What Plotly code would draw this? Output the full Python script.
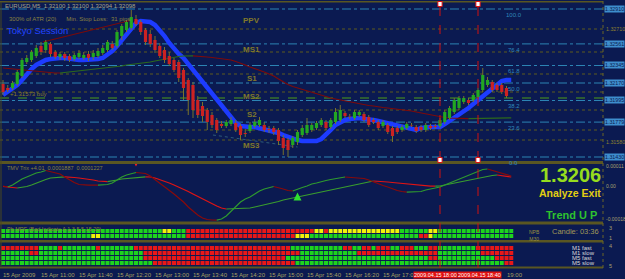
import plotly.graph_objects as go

W, H = 625, 279
PLOT_R = 603
BG = "#0B1A51"
FONT = "Liberation Sans"

# ---------------- data ----------------
bars = list(range(108))
opens = [1.32160,1.32120,1.32120,1.32160,1.32240,1.32380,1.32400,1.32440,1.32540,1.32500,
         1.32560,1.32480,1.32430,1.32460,1.32440,1.32410,1.32430,1.32420,1.32460,1.32430,
         1.32440,1.32470,1.32500,1.32560,1.32540,1.32640,1.32700,1.32720,1.32810,1.32780,
         1.32700,1.32660,1.32600,1.32540,1.32500,1.32440,1.32400,1.32380,1.32300,1.32200,
         1.32150,1.32000,1.31940,1.31900,1.31850,1.31800,1.31760,1.31740,1.31760,1.31770,
         1.31740,1.31670,1.31690,1.31740,1.31750,1.31750,1.31710,1.31720,1.31700,1.31620,
         1.31600,1.31550,1.31580,1.31650,1.31670,1.31700,1.31720,1.31750,1.31780,1.31730,
         1.31780,1.31800,1.31870,1.31840,1.31820,1.31850,1.31860,1.31830,1.31800,1.31780,
         1.31740,1.31750,1.31720,1.31720,1.31700,1.31720,1.31750,1.31730,1.31730,1.31700,
         1.31740,1.31740,1.31740,1.31780,1.31820,1.31880,1.31920,1.31980,1.32000,1.32000,
         1.32030,1.32100,1.32150,1.32180,1.32150,1.32150,1.32120,1.32100]
highs = [1.32200,1.32150,1.32190,1.32300,1.32420,1.32450,1.32500,1.32550,1.32580,1.32600,
         1.32580,1.32500,1.32480,1.32480,1.32460,1.32470,1.32500,1.32480,1.32490,1.32500,
         1.32520,1.32550,1.32600,1.32590,1.32700,1.32760,1.32800,1.32900,1.32850,1.32800,
         1.32720,1.32700,1.32640,1.32570,1.32530,1.32480,1.32420,1.32400,1.32320,1.32220,
         1.32180,1.32040,1.31980,1.31920,1.31880,1.31820,1.31790,1.31800,1.31830,1.31800,
         1.31760,1.31710,1.31780,1.31810,1.31830,1.31780,1.31740,1.31740,1.31720,1.31650,
         1.31620,1.31640,1.31700,1.31750,1.31820,1.31770,1.31790,1.31820,1.31800,1.31820,
         1.31920,1.31950,1.31890,1.31860,1.31900,1.31900,1.31880,1.31850,1.31820,1.31800,
         1.31800,1.31770,1.31740,1.31740,1.31750,1.31780,1.31770,1.31750,1.31750,1.31770,
         1.31760,1.31760,1.31820,1.31900,1.31940,1.32020,1.32040,1.32040,1.32020,1.32070,
         1.32120,1.32320,1.32230,1.32200,1.32170,1.32170,1.32140,1.32100]
lows = [1.32050,1.32080,1.32100,1.32140,1.32220,1.32360,1.32380,1.32420,1.32450,1.32470,
        1.32430,1.32410,1.32400,1.32390,1.32380,1.32390,1.32410,1.32400,1.32390,1.32400,
        1.32420,1.32450,1.32480,1.32500,1.32520,1.32600,1.32680,1.32700,1.32740,1.32650,
        1.32550,1.32530,1.32470,1.32420,1.32370,1.32340,1.32280,1.32180,1.32000,1.31850,
        1.31820,1.31820,1.31780,1.31700,1.31720,1.31670,1.31720,1.31720,1.31740,1.31680,
        1.31600,1.31630,1.31670,1.31720,1.31730,1.31680,1.31670,1.31650,1.31550,1.31450,
        1.31430,1.31520,1.31550,1.31630,1.31650,1.31680,1.31700,1.31730,1.31700,1.31710,
        1.31760,1.31780,1.31820,1.31810,1.31800,1.31830,1.31780,1.31730,1.31760,1.31700,
        1.31720,1.31660,1.31580,1.31660,1.31680,1.31700,1.31730,1.31670,1.31680,1.31680,
        1.31700,1.31710,1.31720,1.31760,1.31800,1.31860,1.31900,1.31960,1.31950,1.31980,
        1.32010,1.32080,1.32130,1.32080,1.32080,1.32060,1.32020,1.32094]
closes = [1.32080,1.32100,1.32170,1.32280,1.32400,1.32420,1.32480,1.32520,1.32480,1.32580,
          1.32460,1.32430,1.32460,1.32420,1.32400,1.32450,1.32470,1.32450,1.32420,1.32470,
          1.32490,1.32520,1.32580,1.32520,1.32680,1.32740,1.32780,1.32830,1.32760,1.32680,
          1.32580,1.32560,1.32500,1.32440,1.32400,1.32360,1.32300,1.32220,1.32120,1.32000,
          1.31900,1.31850,1.31840,1.31780,1.31750,1.31700,1.31740,1.31780,1.31800,1.31700,
          1.31650,1.31660,1.31750,1.31780,1.31800,1.31700,1.31700,1.31680,1.31590,1.31520,
          1.31500,1.31620,1.31680,1.31720,1.31750,1.31750,1.31770,1.31800,1.31720,1.31800,
          1.31880,1.31900,1.31840,1.31835,1.31880,1.31880,1.31800,1.31750,1.31780,1.31720,
          1.31780,1.31680,1.31640,1.31680,1.31730,1.31760,1.31745,1.31690,1.31700,1.31750,
          1.31720,1.31730,1.31800,1.31880,1.31920,1.32000,1.32020,1.32020,1.31970,1.32050,
          1.32100,1.32250,1.32200,1.32100,1.32100,1.32080,1.32040,1.32098]

ribbon = [1.32050,1.32080,1.32110,1.32150,1.32200,1.32260,1.32310,1.32350,1.32380,1.32400,
          1.32410,1.32420,1.32420,1.32420,1.32410,1.32410,1.32400,1.32400,1.32400,1.32400,
          1.32410,1.32420,1.32450,1.32490,1.32540,1.32600,1.32660,1.32720,1.32770,1.32790,
          1.32790,1.32780,1.32750,1.32700,1.32640,1.32570,1.32510,1.32460,1.32420,1.32360,
          1.32300,1.32240,1.32180,1.32120,1.32060,1.32000,1.31940,1.31880,1.31820,1.31770,
          1.31740,1.31730,1.31730,1.31730,1.31720,1.31710,1.31700,1.31690,1.31670,1.31650,
          1.31630,1.31610,1.31600,1.31590,1.31590,1.31590,1.31590,1.31610,1.31650,1.31700,
          1.31750,1.31780,1.31800,1.31810,1.31820,1.31820,1.31810,1.31810,1.31800,1.31790,
          1.31780,1.31770,1.31750,1.31740,1.31730,1.31720,1.31710,1.31700,1.31720,1.31730,
          1.31730,1.31730,1.31730,1.31760,1.31790,1.31820,1.31850,1.31880,1.31920,1.31960,
          1.32000,1.32040,1.32080,1.32120,1.32160,1.32190,1.32200,1.32200]

ma_long = [1.32320,1.32315,1.32310,1.32305,1.32300,1.32295,1.32290,1.32285,1.32280,1.32275,
           1.32270,1.32270,1.32270,1.32275,1.32280,1.32285,1.32290,1.32295,1.32300,1.32305,
           1.32310,1.32315,1.32320,1.32330,1.32335,1.32340,1.32350,1.32355,1.32360,1.32370,
           1.32375,1.32380,1.32390,1.32400,1.32410,1.32420,1.32430,1.32435,1.32440,1.32442,
           1.32442,1.32440,1.32435,1.32430,1.32425,1.32420,1.32415,1.32410,1.32400,1.32385,
           1.32370,1.32350,1.32330,1.32315,1.32300,1.32280,1.32260,1.32240,1.32210,1.32180,
           1.32155,1.32135,1.32120,1.32105,1.32090,1.32075,1.32060,1.32045,1.32030,1.32020,
           1.32010,1.32000,1.31990,1.31980,1.31970,1.31960,1.31955,1.31945,1.31940,1.31930,
           1.31925,1.31920,1.31915,1.31910,1.31900,1.31895,1.31890,1.31880,1.31870,1.31860,
           1.31850,1.31840,1.31830,1.31825,1.31820,1.31817,1.31815,1.31814,1.31814,1.31815,
           1.31816,1.31817,1.31818,1.31819,1.31820,1.31820,1.31821,1.31822]

# TRIX values in units of 1e-6
trix_fast_e6 = [0,-5,5,20,35,45,55,65,70,77.5,
                72.5,65,60,45,30,17.5,7.5,5,4.5,4.5,
                4.5,5,7.5,15,30,45,55,60,67.5,65,
                62.5,50,32.5,15,-5,-20,-40,-60,-80,-105,
                -125,-145,-160,-167.5,-170,-171,-165,-150,-125,-100,
                -80,-65,-55,-40,-25,-15,-10,-2.5,-7.5,-15,
                -22.5,-25,-15,-7.5,0,10,15,22.5,27.5,32.5,
                37.5,42.5,45,44,42.5,40,37.5,30,20,12.5,
                2.5,-5,-15,-22.5,-27.5,-31,-30.5,-30,-27.5,-20,
                -15,-10,-5,5,15,25,35,42.5,55,65,
                75,82.5,85,77.5,70,62.5,55,50]
trix_slow_e6 = [-2.5,-5,-7.5,-10,-7.5,-2.5,5,15,22.5,32.5,
                40,42.5,45,45.5,45,42.5,40,37.5,35,30,
                25,22.5,22,25,30,35,37.5,40,42.5,45,
                45.5,45,40,32.5,25,15,5,-5,-15,-27.5,
                -40,-52.5,-65,-77.5,-90,-100,-110,-115,-114.5,-114,
                -113.5,-112.5,-110,-105,-100,-95,-90,-82.5,-77.5,-70,
                -65,-60,-57.5,-52.5,-47.5,-42.5,-37.5,-32.5,-27.5,-22.5,
                -17.5,-10,-5,0,5,10,15,20,25,24.5,
                22.5,20,17.5,15,12.5,10,7.5,5,2.5,0,
                -0.5,-1,0,5,10,15,20,25,30,35,
                40,45,50,52.5,55,52.5,50,45]

trend_x = [8.4, 27.2]
trend_y = [1.32580, 1.32800]
low_line_x = [44.2, 62.0]
low_line_y = [1.31650, 1.31530]

fib_labels = ["100.0", "76.4", "61.8", "50.0", "38.2", "23.6", "0.0"]
fib_prices = [1.32910, 1.32561, 1.32345, 1.32170, 1.31995, 1.31779, 1.31430]
pivot_names = ["PPV", "MS1", "S1", "MS2", "S2", "MS3"]
pivot_label_prices = [1.32790, 1.32500, 1.32210, 1.32030, 1.31850, 1.31550]
olive_levels = [1.32710, 1.32480, 1.32260, 1.32080, 1.31900, 1.31700, 1.31600]
buy_level = 1.32020
axis_olive_prices = [1.32710, 1.31580]

tick_bars = [0, 8, 16, 24, 32, 40, 48, 56, 64, 72, 80]
tick_text = ["15 Apr 2009", "15 Apr 11:00", "15 Apr 11:40", "15 Apr 12:20", "15 Apr 13:00",
             "15 Apr 13:40", "15 Apr 14:20", "15 Apr 15:00", "15 Apr 15:40", "15 Apr 16:20",
             "15 Apr 17:00"]
tail_tick_bar = 106
tail_tick_text = "19:00"
vline_bars = [92, 100]
vline_text = ["2009.04.15 18:00", "2009.04.15 18:40"]

nrp_row1 = "g"*34 + "y"*2 + "g"*3 + "r"*27 + "y"*2 + "r" + "y"*15 + "g"*6 + "y"*2 + "g"*16
nrp_row2 = "g"*19 + "y"*2 + "g"*18 + "r"*23 + "y"*3 + "g"*23 + "r"*2 + "y" + "g"*17
m1_fast = "r"*8 + "ggggrgggggggrggggggg" + "r"*33 + "g"*11 + "rrggrrgrrrggrrrgggrr" + "g"*8 + "r"*8
m1_slow = "g"*6 + "rr" + "g"*22 + "r"*33 + "g"*12 + "r"*17 + "g"*9 + "r"*7
m5_fast = "g"*30 + "r"*30 + "g"*30 + "r"*2 + "g"*12 + "r"*4
m5_slow = "g"*32 + "r"*30 + "g"*44 + "r"*2

# ---------------- helpers ----------------
def px(x):
    return x / W

def py(y):
    return 1 - y / H

SQ = {"g": "#1ED41E", "r": "#E81818", "y": "#F2F20A"}

fig = go.Figure()

def slope_traces(xs, ys, up, down, yaxis, width):
    out = []
    cur = None
    sx, sy = [xs[0]], [ys[0]]
    for i in range(1, len(xs)):
        if ys[i] > ys[i - 1]:
            c = up
        elif ys[i] < ys[i - 1]:
            c = down
        else:
            c = cur or up
        if cur is None:
            cur = c
        if c != cur:
            out.append(go.Scatter(x=sx, y=sy, mode="lines", yaxis=yaxis,
                                  line=dict(color=cur, width=width), hoverinfo="skip"))
            sx, sy = [xs[i - 1]], [ys[i - 1]]
            cur = c
        sx.append(xs[i]); sy.append(ys[i])
    out.append(go.Scatter(x=sx, y=sy, mode="lines", yaxis=yaxis,
                          line=dict(color=cur, width=width), hoverinfo="skip"))
    return out

# ---- main pane ----
fig.add_trace(go.Scatter(x=bars, y=ribbon, mode="lines", yaxis="y",
                         line=dict(color="#1D3BFF", width=4.5), hoverinfo="skip"))
for t in slope_traces(bars, ma_long, "#2C6A1C", "#7E0A0A", "y", 1.2):
    fig.add_trace(t)
fig.add_trace(go.Scatter(x=trend_x, y=trend_y, mode="lines", yaxis="y",
                         line=dict(color="#7A0A0A", width=1.2), hoverinfo="skip"))
fig.add_trace(go.Scatter(x=low_line_x, y=low_line_y, mode="lines", yaxis="y",
                         line=dict(color="#2E5C78", width=1, dash="dot"), hoverinfo="skip"))

wx, wy = [], []
gx, gy, rx, ry = [], [], [], []
for i, o, h, l, c in zip(bars, opens, highs, lows, closes):
    top, bot = max(o, c), min(o, c)
    if top - bot < 0.00003:
        mid = (top + bot) / 2
        top, bot = mid + 0.000015, mid - 0.000015
    wx += [i, i, None, i, i, None]
    wy += [h, top, None, bot, l, None]
    if c >= o:
        gx += [i, i, None]; gy += [bot, top, None]
    else:
        rx += [i, i, None]; ry += [bot, top, None]
fig.add_trace(go.Scatter(x=wx, y=wy, mode="lines", yaxis="y",
                         line=dict(color="#77722C", width=1), hoverinfo="skip"))
fig.add_trace(go.Scatter(x=gx, y=gy, mode="lines", yaxis="y",
                         line=dict(color="#22A822", width=3.2), hoverinfo="skip"))
fig.add_trace(go.Scatter(x=rx, y=ry, mode="lines", yaxis="y",
                         line=dict(color="#CC2222", width=3.2), hoverinfo="skip"))

# ---- indicator pane ----
trix_fast = [v * 1e-6 for v in trix_fast_e6]
trix_slow = [v * 1e-6 for v in trix_slow_e6]
for t in slope_traces(bars, trix_slow, "#3A9E2E", "#E01414", "y2", 1.2):
    fig.add_trace(t)
for t in slope_traces(bars, trix_fast, "#2F9A2F", "#8A0A0A", "y2", 1.2):
    fig.add_trace(t)
fig.add_trace(go.Scatter(x=[28], y=[trix_fast[28] + 30e-6], mode="markers", yaxis="y2",
                         marker=dict(symbol="arrow-down", size=8, color="#FF2020"), hoverinfo="skip"))
fig.add_trace(go.Scatter(x=[62], y=[trix_fast[62] - 18e-6], mode="markers", yaxis="y2",
                         marker=dict(symbol="arrow-up", size=8, color="#30E030"), hoverinfo="skip"))

# ---- square panes ----
def row_trace(pattern, level, yaxis):
    return go.Scatter(x=bars[:len(pattern)], y=[level] * len(pattern), mode="markers", yaxis=yaxis,
                      marker=dict(symbol="square", size=4, color=[SQ[c] for c in pattern],
                                  line=dict(width=0)), hoverinfo="skip")

fig.add_trace(row_trace(nrp_row1, 2, "y3"))
fig.add_trace(row_trace(nrp_row2, 1, "y3"))
for lvl, pat in zip([4, 3, 2, 1], [m1_fast, m1_slow, m5_fast, m5_slow]):
    fig.add_trace(row_trace(pat, lvl, "y4"))

# ---------------- layout ----------------
x0 = -3 / 4.75
x1 = x0 + PLOT_R / 4.75
hid = dict(showgrid=False, zeroline=False, showticklabels=False, ticks="", showline=False)

shapes = []
for p in fib_prices:
    shapes.append(dict(type="line", xref="paper", yref="y", x0=0, x1=px(PLOT_R), y0=p, y1=p,
                       line=dict(color="#2C84B4", width=1, dash="dashdot"), layer="below"))
for p in olive_levels:
    shapes.append(dict(type="line", xref="paper", yref="y", x0=0, x1=px(PLOT_R), y0=p, y1=p,
                       line=dict(color="#5F5B1E", width=1, dash="dot"), layer="below"))
shapes.append(dict(type="line", xref="paper", yref="y", x0=0, x1=px(PLOT_R), y0=buy_level, y1=buy_level,
                   line=dict(color="#4E9C18", width=1, dash="dash"), layer="below"))

OL = "#5A5622"
for (ya, yb) in [(1, 2.5), (161, 164), (221.5, 224.5), (240, 242.5), (266.5, 268.5)]:
    shapes.append(dict(type="rect", xref="paper", yref="paper", x0=0, x1=px(PLOT_R),
                       y0=py(yb), y1=py(ya), fillcolor=OL, line=dict(width=0)))
shapes.append(dict(type="line", xref="paper", yref="paper", x0=px(PLOT_R), x1=px(PLOT_R),
                   y0=py(268), y1=py(1), line=dict(color="#6A6428", width=1, dash="dot")))
shapes.append(dict(type="line", xref="paper", yref="paper", x0=px(1), x1=px(1),
                   y0=py(266), y1=py(2), line=dict(color="#4A4820", width=1)))
for b in vline_bars:
    shapes.append(dict(type="line", xref="x", yref="paper", x0=b, x1=b, y0=py(268), y1=py(2),
                       line=dict(color="#D01010", width=1, dash="dash")))
    for yy in (4, 160):
        shapes.append(dict(type="rect", xref="x", yref="paper", x0=b - 0.45, x1=b + 0.45,
                           y0=py(yy + 2.5), y1=py(yy - 2.5), fillcolor="#FFFFFF",
                           line=dict(color="#E01010", width=1)))

ann = []
def A(text, x, y, size, color, xanchor="left", yanchor="middle", xref="paper", yref="paper",
      bg=None, family=FONT, xshift=0, yshift=0):
    d = dict(text=text, x=x if xref != "paper" else px(x), y=y if yref != "paper" else py(y),
             xref=xref, yref=yref, showarrow=False, xanchor=xanchor, yanchor=yanchor,
             font=dict(size=size, color=color, family=family), xshift=xshift, yshift=yshift)
    if bg:
        d["bgcolor"] = bg
        d["borderpad"] = 0
    ann.append(d)

A("EURUSD,M5  1.32100 1.32100 1.32094 1.32098", 3, 6, 6, "#A8A488")
A("300% of ATR (20)      Min. Stop Loss:  31 pips", 7, 19, 6, "#8A8240")
A("Tokyo Session", 5, 30, 9.5, "#2244FF")
A("+1.31573 buy", 8, 94, 6, "#8A7E2A")
for name, p in zip(pivot_names, pivot_label_prices):
    A("<b>" + name + "</b>", 52.4, p, 8, "#80782A", xanchor="center", xref="x", yref="y")
for lab, p in zip(fib_labels, fib_prices):
    A(lab, 107.5, p, 6, "#2F88BA", xanchor="center", yanchor="top", xref="x", yref="y", yshift=-1)
for p in fib_prices:
    A("%.5f" % p, 604, p, 5.3, "#0B1A51", xref="paper", yref="y", bg="#3E8ECE")
for p in axis_olive_prices:
    A("%.5f" % p, 604, p, 5.3, "#8C8030", xref="paper", yref="y")

A("TMV Trix +4.01  0.0001887  0.0001227", 5, 168, 5.5, "#8A8240")
A("0.00011", 604, 166, 5, "#A8A070")
A("0.00", 604, 186, 5, "#A8A070")
A("-0.00018", 604, 219, 5, "#A8A070")

A("<b>1.3206</b>", 570, 174.5, 20, "#96DC1E", xanchor="center")
A("<b>Analyze Exit</b>", 570, 193, 10.5, "#E3CF12", xanchor="center")
A("<b>Trend U P</b>", 571, 214.5, 11, "#2EC22E", xanchor="center")

A("Pb MRF (Bad Indicate A 1 3 5 5 15 20)", 5, 229, 5.5, "#8A8240")
A("Candle: 03:36", 550, 231, 7.5, "#A09858")
A("NPB<br>M30", 527, 235, 5, "#9A9040")
for t, yy in zip(["M1 fast", "M1 slow", "M5 fast", "M5 slow"], [248, 253, 258, 263]):
    A(t, 570, yy, 6, "#D8D8D8")
A("3", 607, 228, 5.5, "#A8A070")
A("1", 607, 238, 5.5, "#A8A070")
A("4", 607, 246, 5.5, "#A8A070")
A("5", 607, 266, 5.5, "#A8A070")

for b, t in zip(tick_bars, tick_text):
    A(t, b, 275, 6, "#A8A060", xref="x", xshift=-2)
A(tail_tick_text, tail_tick_bar, 275, 6, "#A8A060", xref="x", xshift=-2)
A(vline_text[0], vline_bars[0], 275, 5.5, "#FFFFFF", xanchor="right", xref="x", bg="#E01010", xshift=18)
A(vline_text[1], vline_bars[1], 275, 5.5, "#FFFFFF", xanchor="right", xref="x", bg="#E01010", xshift=24)

fig.update_layout(
    width=W, height=H, margin=dict(l=0, r=0, t=0, b=0),
    paper_bgcolor=BG, plot_bgcolor=BG, showlegend=False,
    xaxis=dict(domain=[0, px(PLOT_R)], range=[x0, x1], **hid),
    yaxis=dict(domain=[py(161), py(2)], range=[1.3300 - 161e-4, 1.3300 - 2e-4], anchor="x", **hid),
    yaxis2=dict(domain=[py(222), py(163)], range=[-180e-6, 115e-6], anchor="x", **hid),
    yaxis3=dict(domain=[py(241), py(225)], range=[0, 3.2], anchor="x", **hid),
    yaxis4=dict(domain=[py(268), py(242)], range=[0, 5.2], anchor="x", **hid),
    shapes=shapes, annotations=ann,
)

fig.write_html("out.html")
